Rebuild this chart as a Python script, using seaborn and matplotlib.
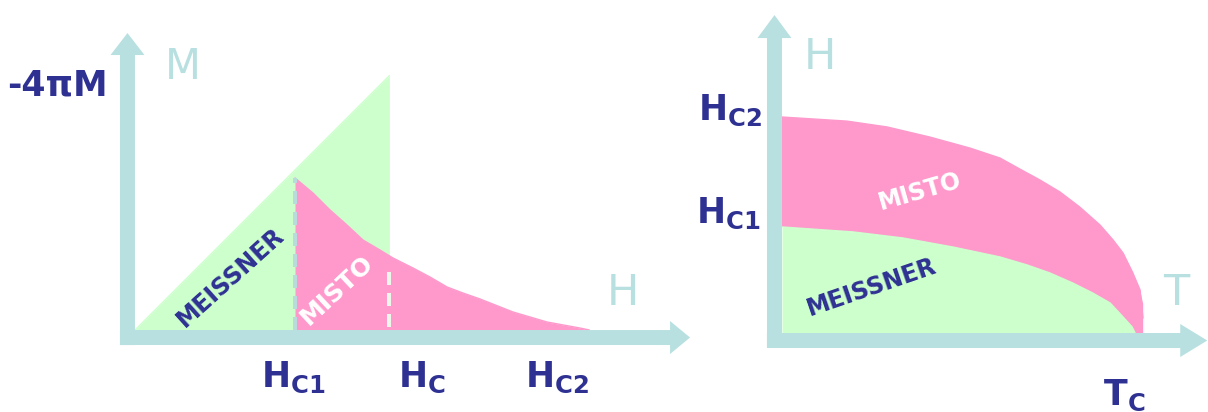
import numpy as np
import pandas as pd
import matplotlib
matplotlib.use("Agg")
import matplotlib.pyplot as plt
import seaborn as sns
from matplotlib.patches import FancyArrowPatch, ArrowStyle

# ---------------------------------------------------------------
# Left: magnetisation curve of a type-II superconductor
# (-4πM against H, H in units of Hc1)
# ---------------------------------------------------------------
H_C1 = 1.0
H_C = 1.59
H_C2 = 2.84

# Ideal diamagnet (Meissner line): -4πM = H up to Hc
meissner_h = [0.0, H_C]
meissner_m = [0.0, H_C]

# Mixed state ("misto") branch from Hc1 down to Hc2
misto_h = [1.0, 1.1125, 1.219, 1.325, 1.425, 1.531, 1.6125, 1.7375, 1.844,
           1.95, 2.05, 2.156, 2.3625, 2.575, 2.78, 2.84]
misto_m = [0.95, 0.856, 0.75, 0.656, 0.5625, 0.5, 0.45, 0.3875, 0.331,
           0.269, 0.231, 0.194, 0.1125, 0.05, 0.0125, 0.0]

field_labels = [r"$\mathbf{H}_{\mathbf{C1}}$", r"$\mathbf{H}_{\mathbf{C}}$", r"$\mathbf{H}_{\mathbf{C2}}$"]

# ---------------------------------------------------------------
# Right: H-T phase diagram (T in units of Tc, H in units of Hc2(0))
# ---------------------------------------------------------------
hc2_t = [0.0, 0.180, 0.291, 0.410, 0.521, 0.604, 0.659, 0.715, 0.770, 0.825,
         0.881, 0.917, 0.945, 0.972, 0.992, 1.0, 1.0]
hc2_h = [1.0, 0.981, 0.954, 0.907, 0.856, 0.810, 0.759, 0.708, 0.653, 0.583,
         0.500, 0.431, 0.370, 0.278, 0.199, 0.139, 0.0]
hc1_t = [0.0, 0.197, 0.335, 0.474, 0.604, 0.679, 0.742, 0.806, 0.861, 0.909,
         0.945, 0.970, 0.978]
hc1_h = [0.491, 0.468, 0.440, 0.398, 0.352, 0.315, 0.278, 0.231, 0.185, 0.139,
         0.074, 0.028, 0.0]

GREEN = "#ccffcc"
PINK = "#ff99cc"
AXIS = "#b9e0e0"
NAVY = "#2e3192"

sns.set_style("white")
plt.rcParams["font.family"] = ["DejaVu Sans"]
plt.rcParams["mathtext.fontset"] = "dejavusans"
plt.rcParams["lines.scale_dashes"] = False

W, H = 1208, 412
fig = plt.figure(figsize=(W / 100, H / 100), dpi=100)

PX = 72 / 100  # one pixel in points


def axis_arrow(ax, start, end, tail, head_w, head_l):
    style = ArrowStyle.Simple(head_length=head_l, head_width=head_w, tail_width=tail)
    arr = FancyArrowPatch(start, end, arrowstyle=style, mutation_scale=PX,
                          shrinkA=0, shrinkB=0, color=AXIS, lw=0, zorder=5)
    ax.add_patch(arr)


# ------------------------- left panel ---------------------------
axL = fig.add_axes([0, 0, 700 / W, 1])
axL.set_xlim(-0.84375, 3.53125)
axL.set_ylim(-0.5125, 2.0625)
axL.axis("off")

mdf = pd.DataFrame({"H": meissner_h, "M": meissner_m})
sdf = pd.DataFrame({"H": misto_h, "M": misto_m})

axL.fill_between(mdf["H"], 0, mdf["M"], color=GREEN, lw=0, zorder=1)
sns.lineplot(data=mdf, x="H", y="M", ax=axL, color=GREEN, lw=1, zorder=1)
axL.fill_between(sdf["H"], 0, sdf["M"], color=PINK, lw=0, zorder=2)
sns.lineplot(data=sdf, x="H", y="M", ax=axL, color=PINK, lw=1, zorder=2)

axL.plot([H_C1, H_C1], [0.0, misto_m[0]], color="#b8dcdc", lw=4 * PX,
         dashes=(13 * PX, 8 * PX), zorder=3)
m_at_hc = float(np.interp(H_C, misto_h, misto_m))
axL.plot([H_C, H_C], [0.02, m_at_hc - 0.05], color="#eef8ea", lw=4 * PX,
         dashes=(13 * PX, 8 * PX), zorder=3)

axis_arrow(axL, (-0.047, -0.094), (-0.047, 1.856), 15, 34, 22)
axis_arrow(axL, (-0.094, -0.047), (3.469, -0.047), 15, 33, 20)

axL.text(-0.4875, 1.531, "-4πM", color=NAVY, fontsize=25, fontweight="bold",
         ha="center", va="center")
axL.text(0.30, 1.644, "M", color=AXIS, fontsize=30, ha="center", va="center")
axL.text(3.05, 0.231, "H", color=AXIS, fontsize=31, ha="center", va="center")

for lab, xpos in zip(field_labels, [0.99, 1.79, 2.64]):
    axL.text(xpos, -0.294, lab, color=NAVY, fontsize=25, ha="center", va="center")

axL.text(0.594, 0.331, "MEISSNER", color=NAVY, fontsize=17, fontweight="bold",
         rotation=42, rotation_mode="anchor", ha="center", va="center", zorder=4)
axL.text(1.2625, 0.25, "MISTO", color="white", fontsize=18, fontweight="bold",
         rotation=43, rotation_mode="anchor", ha="center", va="center", zorder=4)

# ------------------------- right panel --------------------------
axR = fig.add_axes([700 / W, 0, 508 / W, 1])
axR.set_xlim(-0.2271, 1.1801)
axR.set_ylim(-0.3657, 1.5417)
axR.axis("off")

up = pd.DataFrame({"T": hc2_t, "H": hc2_h})
lo = pd.DataFrame({"T": hc1_t, "H": hc1_h})

axR.fill(np.r_[up["T"], lo["T"][::-1]], np.r_[up["H"], lo["H"][::-1]],
         color=PINK, lw=0, zorder=1)
sns.lineplot(data=up, x="T", y="H", ax=axR, color=PINK, lw=1, sort=False, zorder=1)
axR.fill_between(lo["T"], 0, lo["H"], color=GREEN, lw=0, zorder=2)
sns.lineplot(data=lo, x="T", y="H", ax=axR, color=GREEN, lw=1, sort=False, zorder=2)

axis_arrow(axR, (-0.0208, -0.0694), (-0.0208, 1.472), 15, 34, 23)
axis_arrow(axR, (-0.0416, -0.0347), (1.178, -0.0347), 15, 33, 27)

axR.text(-0.144, 1.032, r"$\mathbf{H}_{\mathbf{C2}}$", color=NAVY, fontsize=25,
         ha="center", va="center")
axR.text(-0.150, 0.556, r"$\mathbf{H}_{\mathbf{C1}}$", color=NAVY, fontsize=25,
         ha="center", va="center")
axR.text(0.105, 1.278, "H", color=AXIS, fontsize=31, ha="center", va="center")
axR.text(1.091, 0.185, "T", color=AXIS, fontsize=31, ha="center", va="center")
axR.text(0.947, -0.287, r"$\mathbf{T}_{\mathbf{C}}$", color=NAVY, fontsize=25,
         ha="center", va="center")

axR.text(0.382, 0.653, "MISTO", color="white", fontsize=17, fontweight="bold",
         rotation=16, rotation_mode="anchor", ha="center", va="center", zorder=4)
axR.text(0.249, 0.213, "MEISSNER", color=NAVY, fontsize=17, fontweight="bold",
         rotation=19, rotation_mode="anchor", ha="center", va="center", zorder=4)

fig.savefig("out.png", dpi=100)
